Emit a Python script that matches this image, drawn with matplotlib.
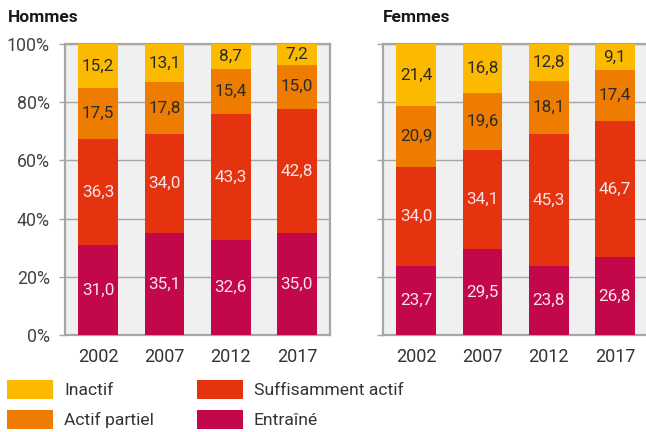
import matplotlib
matplotlib.use("Agg")
import matplotlib.pyplot as plt
import numpy as np
from matplotlib.patches import Patch

plt.rcParams['font.family'] = ['Roboto', 'DejaVu Sans']

years = ["2002", "2007", "2012", "2017"]
categories = ["Entraîné", "Suffisamment actif", "Actif partiel", "Inactif"]
colors = ["#C2074A", "#E5330F", "#EE7C00", "#FBBA00"]
text_colors = ["#FBE4E8", "#FBE4E8", "#2B2B2B", "#2B2B2B"]

hommes_entraine = [31.0, 35.1, 32.6, 35.0]
hommes_suffisant = [36.3, 34.0, 43.3, 42.8]
hommes_partiel = [17.5, 17.8, 15.4, 15.0]
hommes_inactif = [15.2, 13.1, 8.7, 7.2]

femmes_entraine = [23.7, 29.5, 23.8, 26.8]
femmes_suffisant = [34.0, 34.1, 45.3, 46.7]
femmes_partiel = [20.9, 19.6, 18.1, 17.4]
femmes_inactif = [21.4, 16.8, 12.8, 9.1]

yticks = [0, 20, 40, 60, 80, 100]
ytick_labels = ["0%", "20%", "40%", "60%", "80%", "100%"]

W, H = 646, 432
fig = plt.figure(figsize=(W / 100, H / 100), dpi=100)

grid_col = "#A6A6A6"

def make_panel(left_px, title, series, show_ylabels):
    ax = fig.add_axes([left_px / W, (H - 335) / H, 265 / W, (335 - 44) / H])
    ax.set_facecolor("#F0F0F0")
    x = np.arange(len(years))
    bottom = np.zeros(len(years))
    for vals, col, tcol in zip(series, colors, text_colors):
        vals = np.array(vals)
        ax.bar(x, vals, bottom=bottom, width=0.6, color=col, zorder=3)
        for xi, b, v in zip(x, bottom, vals):
            ax.text(xi, b + v / 2, f"{v:.1f}".replace(".", ","), ha="center", va="center",
                    fontsize=12.3, color=tcol, zorder=4)
        bottom = bottom + vals
    ax.set_xlim(-0.5, 3.5)
    ax.set_ylim(0, 100)
    ax.set_xticks(x)
    ax.set_xticklabels(years, fontsize=13, color="#333333")
    ax.set_yticks(yticks)
    if show_ylabels:
        ax.set_yticklabels(ytick_labels, fontsize=12.8, color="#444444")
    else:
        ax.set_yticklabels([])
    ax.tick_params(axis="x", length=0, pad=9)
    ax.tick_params(axis="y", length=4, width=1, color=grid_col, pad=7)
    ax.yaxis.grid(True, color=grid_col, linewidth=1.0, zorder=1)
    ax.set_axisbelow(True)
    for s in ax.spines.values():
        s.set_color(grid_col)
        s.set_linewidth(1.6)
    fig.text(left_px / W - (57 / W if show_ylabels else 0), 1 - 18 / H, title,
             fontsize=12.5, fontweight="bold", color="#1A1A1A", ha="left", va="center")
    return ax

make_panel(65, "Hommes", [hommes_entraine, hommes_suffisant, hommes_partiel, hommes_inactif], True)
make_panel(383, "Femmes", [femmes_entraine, femmes_suffisant, femmes_partiel, femmes_inactif], False)

handles = [Patch(facecolor=colors[3]), Patch(facecolor=colors[2]),
           Patch(facecolor=colors[1]), Patch(facecolor=colors[0])]
labels = [categories[3], categories[2], categories[1], categories[0]]
fig.legend(handles, labels, ncol=2, loc="upper left", bbox_to_anchor=(7 / W, 1 - 380 / H),
           frameon=False, handlelength=2.65, handleheight=1.3,
           handletextpad=0.6, columnspacing=2.45, labelspacing=0.6, borderpad=0,
           borderaxespad=0, labelcolor="#333333",
           prop={"family": ["Roboto", "DejaVu Sans"], "size": 12.6})

fig.savefig("out.png", dpi=100)
